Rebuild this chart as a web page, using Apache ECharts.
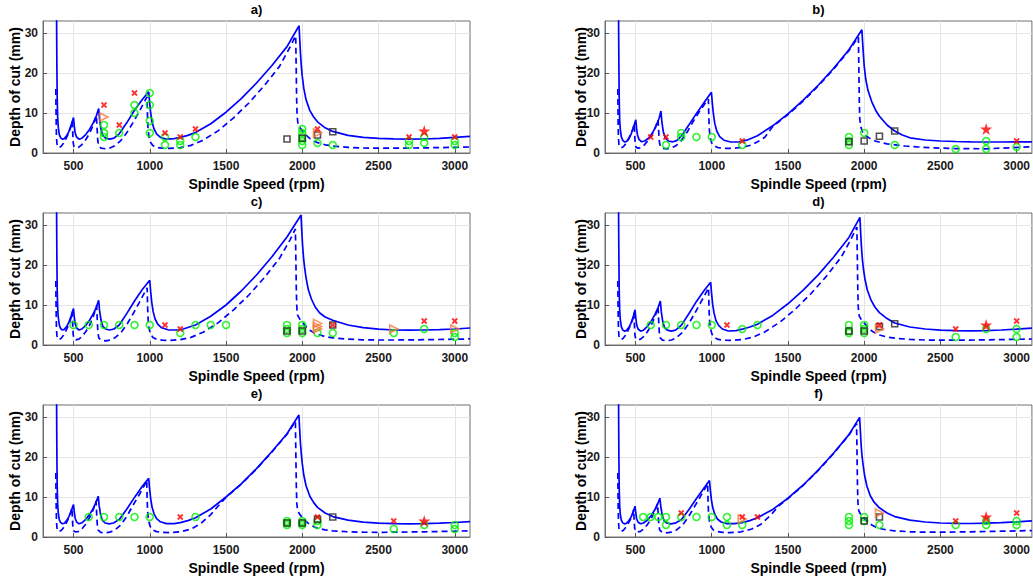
<!DOCTYPE html>
<html>
<head>
<meta charset="utf-8">
<title>Stability lobes</title>
<script src="https://cdn.jsdelivr.net/npm/echarts@6/dist/echarts.min.js"></script>
<style>
  html, body { margin: 0; padding: 0; background: #fff; }
  #chart { width: 1033px; height: 581px; }
</style>
</head>
<body>
<div id="chart"></div>
<script>
// Tick positions
const xTicks = [500, 1000, 1500, 2000, 2500, 3000];
const yTicks = [0, 10, 20, 30];
const panelTitles = ['a)', 'b)', 'c)', 'd)', 'e)', 'f)'];

// Stability lobes [spindle speed (rpm), depth of cut (mm)] — solid and dashed limits per panel
const lobeA_solid = [[389,34],[391,22],[393,14],[396,9],[400,6.5],[407,4.6],[416,3.8],[427,3.45],[440,3.6],[455,4.3],[470,5.4],[485,7.0],[500,8.85],[505,6.8],[511,5.0],[520,4.0],[536,3.45],[555,3.7],[580,4.6],[605,5.9],[630,7.6],[650,9.3],[665,11.1],[671,8.4],[680,6.0],[692,4.4],[710,3.7],[737,3.45],[765,3.7],[800,4.8],[850,7.6],[900,10.7],[950,13.3],[993,15.3],[999,12.6],[1006,10],[1015,7.8],[1028,6.0],[1045,4.8],[1070,3.9],[1109,3.45],[1160,3.6],[1200,3.9],[1250,4.4],[1300,5.1],[1400,7.3],[1500,10.2],[1600,13.6],[1700,17.5],[1800,21.8],[1900,26.6],[1979,31.8],[1984,28],[1989,24.5],[1994,21.7],[2000,19.2],[2010,16.2],[2025,13.3],[2050,10.6],[2075,9.0],[2100,7.8],[2150,6.3],[2200,5.4],[2300,4.4],[2400,3.9],[2500,3.65],[2600,3.52],[2700,3.45],[2800,3.5],[2900,3.65],[3000,3.9],[3100,4.15]];
const lobeA_dash = [[384,16],[386,9],[388,4.5],[391,2.4],[396,1.6],[405,1.35],[418,1.6],[432,2.3],[450,3.5],[468,5.0],[483,6.6],[492,8.0],[495,5],[498,2.6],[503,1.6],[515,1.3],[535,1.45],[555,2.1],[580,3.3],[605,4.9],[630,7.0],[650,9.4],[655,6],[659,3.2],[665,1.8],[680,1.2],[710,1.05],[740,1.25],[770,1.8],[810,3.1],[850,5.1],[890,7.6],[930,10.3],[970,13.2],[982,14.0],[985,9.5],[988,6.5],[994,4.2],[1005,2.7],[1020,1.9],[1045,1.4],[1080,1.2],[1130,1.15],[1200,1.35],[1270,1.9],[1350,3.2],[1450,5.6],[1550,8.8],[1650,12.5],[1750,16.8],[1850,21.6],[1920,26.5],[1957,29.3],[1960,22],[1963,14],[1966,9.5],[1972,7.2],[1985,6.3],[2000,5.6],[2025,4.5],[2050,3.6],[2075,3.0],[2100,2.6],[2150,2.05],[2200,1.75],[2300,1.4],[2400,1.25],[2500,1.2],[2600,1.2],[2800,1.28],[3000,1.42],[3100,1.5]];

const lobeB_solid = [[389,34],[391,22],[393,14],[396,8.5],[400,6],[407,4.1],[416,3.2],[428,2.75],[442,2.9],[457,3.6],[472,4.8],[487,6.4],[502,8.3],[507,6.2],[513,4.5],[523,3.4],[540,2.8],[560,3.0],[585,3.7],[610,4.9],[635,6.8],[655,8.7],[667,10.5],[673,7.8],[682,5.4],[695,3.8],[715,3.0],[745,2.8],[770,3.1],[800,4.2],[850,7.0],[900,9.9],[950,12.6],[998,15.2],[1004,12.4],[1011,9.8],[1020,7.4],[1033,5.5],[1052,4.1],[1080,3.2],[1125,2.75],[1180,2.8],[1230,3.2],[1300,4.3],[1400,6.8],[1500,9.8],[1600,13.2],[1700,17.0],[1800,21.2],[1900,25.8],[1985,30.8],[1990,27.5],[1995,24.5],[2000,21.8],[2010,18.5],[2025,15.6],[2050,12.8],[2075,10.7],[2100,9.2],[2150,7.0],[2200,5.5],[2250,4.5],[2300,3.8],[2400,3.25],[2500,3.0],[2600,2.88],[2700,2.8],[2900,2.75],[3100,2.8]];
const lobeB_dash = [[384,16],[386,8],[388,4],[391,2.2],[396,1.5],[405,1.3],[418,1.5],[432,2.1],[450,3.2],[468,4.6],[483,6.0],[492,7.3],[495,4.5],[498,2.4],[503,1.5],[515,1.2],[535,1.3],[555,1.9],[580,3.0],[605,4.4],[630,6.3],[648,8.3],[652,5.5],[656,3.0],[662,1.7],[678,1.15],[705,1.05],[735,1.25],[765,1.8],[800,3.1],[840,5.3],[880,8.0],[920,10.4],[960,12.6],[978,13.5],[981,9],[984,6],[990,3.8],[1000,2.5],[1015,1.8],[1040,1.35],[1080,1.15],[1130,1.15],[1200,1.4],[1260,2.0],[1310,3.0],[1350,4.0],[1400,6.6],[1500,9.6],[1600,13.0],[1700,16.8],[1800,21.0],[1900,25.6],[1962,29.0],[1965,21],[1968,13],[1971,8.5],[1978,6.5],[1990,5.2],[2007,4.4],[2040,3.6],[2072,3.0],[2110,2.6],[2150,2.3],[2190,2.1],[2270,1.75],[2355,1.5],[2450,1.3],[2600,1.1],[2800,1.05],[2950,1.3],[3100,1.55]];

const lobeC_solid = [[389,34],[391,22],[393,14],[396,9.5],[400,7],[407,5],[416,4.1],[427,3.75],[440,3.9],[455,4.6],[470,5.7],[485,7.3],[500,9.1],[505,7.0],[511,5.3],[520,4.3],[536,3.75],[555,4.0],[580,4.9],[605,6.2],[630,7.8],[650,9.5],[665,11.2],[671,8.6],[680,6.3],[692,4.7],[710,4.0],[737,3.75],[765,4.0],[800,5.0],[850,7.9],[900,11.0],[950,13.8],[1000,16.2],[1006,13.4],[1013,10.7],[1022,8.4],[1035,6.5],[1052,5.2],[1078,4.3],[1120,3.8],[1175,3.75],[1220,4.0],[1300,5.0],[1400,7.2],[1500,10.0],[1600,13.5],[1700,17.5],[1800,22.0],[1900,27.0],[1992,32.5],[1997,28.5],[2002,25],[2008,22],[2015,19.5],[2025,16.8],[2040,13.8],[2060,11.5],[2085,9.5],[2115,8.0],[2150,7.0],[2200,6.2],[2300,5.0],[2400,4.35],[2500,3.95],[2600,3.75],[2700,3.7],[2800,3.75],[2900,3.85],[3000,4.0],[3100,4.25]];
const lobeC_dash = [[384,16],[386,9],[388,4.5],[391,2.4],[396,1.6],[405,1.35],[418,1.6],[432,2.3],[450,3.5],[468,5.0],[483,6.7],[492,8.3],[495,5],[498,2.6],[503,1.6],[515,1.3],[535,1.45],[555,2.1],[580,3.3],[605,4.9],[630,7.2],[652,9.8],[656,6],[660,3.2],[666,1.8],[681,1.2],[711,1.05],[741,1.25],[771,1.8],[811,3.1],[851,5.2],[891,7.8],[931,10.6],[970,13.4],[983,14.3],[986,9.5],[989,6.5],[995,4.2],[1006,2.7],[1021,1.9],[1046,1.4],[1081,1.2],[1131,1.15],[1200,1.35],[1270,1.9],[1350,3.2],[1450,5.6],[1550,8.8],[1650,12.5],[1750,16.8],[1850,21.6],[1920,26.3],[1955,29.0],[1958,22],[1961,14],[1964,9.5],[1970,7.4],[1985,6.4],[2000,5.7],[2025,4.6],[2050,3.7],[2075,3.1],[2100,2.7],[2150,2.1],[2200,1.8],[2300,1.45],[2400,1.3],[2500,1.25],[2600,1.25],[2800,1.32],[3000,1.45],[3100,1.52]];

const lobeD_solid = [[389,34],[391,22],[393,14],[396,9],[400,6.5],[407,4.6],[416,3.8],[427,3.45],[440,3.6],[455,4.3],[470,5.4],[485,7.0],[497,8.8],[502,6.8],[508,5.0],[517,4.0],[533,3.45],[552,3.7],[577,4.6],[602,5.9],[627,7.6],[648,9.3],[663,11.0],[669,8.4],[678,6.0],[690,4.4],[708,3.7],[735,3.45],[763,3.7],[800,4.9],[850,7.8],[900,10.9],[950,13.6],[993,15.7],[999,12.9],[1006,10.2],[1015,8.0],[1028,6.1],[1045,4.9],[1070,4.0],[1109,3.5],[1160,3.6],[1200,3.95],[1250,4.5],[1300,5.2],[1400,7.4],[1500,10.3],[1600,13.7],[1700,17.6],[1800,22.0],[1900,26.9],[1972,31.9],[1977,28],[1982,24.5],[1988,21.5],[1995,19.0],[2005,16.5],[2020,13.8],[2045,11.2],[2070,9.5],[2100,8.1],[2150,6.6],[2200,5.5],[2300,4.5],[2400,4.0],[2500,3.7],[2600,3.58],[2700,3.55],[2800,3.6],[2900,3.75],[3000,3.95],[3100,4.2]];
const lobeD_dash = [[384,16],[386,9],[388,4.5],[391,2.4],[396,1.6],[405,1.35],[418,1.6],[432,2.3],[450,3.5],[468,5.0],[483,6.6],[490,8.1],[493,5],[496,2.6],[501,1.6],[513,1.3],[533,1.45],[553,2.1],[578,3.3],[603,4.9],[628,7.1],[648,9.6],[652,6],[656,3.2],[662,1.8],[677,1.2],[707,1.05],[737,1.25],[767,1.8],[807,3.1],[847,5.2],[887,7.8],[927,10.6],[967,13.4],[979,14.3],[982,9.5],[985,6.5],[991,4.2],[1002,2.7],[1017,1.9],[1042,1.4],[1077,1.2],[1127,1.15],[1200,1.35],[1270,1.95],[1350,3.3],[1450,5.8],[1550,9.0],[1650,12.8],[1750,17.1],[1850,22.0],[1915,26.6],[1952,29.5],[1955,22],[1958,14],[1961,9.5],[1967,7.3],[1982,6.3],[2000,5.5],[2025,4.4],[2050,3.5],[2075,2.9],[2100,2.5],[2150,2.0],[2200,1.7],[2300,1.4],[2400,1.25],[2500,1.2],[2600,1.2],[2800,1.28],[3000,1.42],[3100,1.5]];

const lobeE_solid = [[389,34],[391,21],[393,13],[396,8.5],[400,6.0],[407,4.3],[416,3.6],[427,3.3],[440,3.45],[455,4.1],[470,5.1],[485,6.5],[500,8.1],[505,6.3],[511,4.7],[520,3.8],[536,3.3],[555,3.55],[580,4.4],[605,5.6],[630,7.2],[648,8.7],[662,10.2],[668,7.9],[677,5.7],[689,4.2],[707,3.5],[735,3.3],[763,3.5],[800,4.4],[850,7.0],[900,9.9],[950,12.6],[993,14.7],[999,12.1],[1006,9.6],[1015,7.5],[1028,5.8],[1045,4.6],[1070,3.8],[1109,3.35],[1160,3.35],[1200,3.6],[1250,4.1],[1300,4.8],[1400,7.0],[1500,10.0],[1600,13.3],[1700,17.1],[1800,21.3],[1900,25.8],[1978,30.5],[1983,27],[1988,23.5],[1994,20.7],[2000,18.4],[2010,15.5],[2025,12.8],[2050,10.2],[2075,8.6],[2100,7.4],[2150,6.0],[2200,5.1],[2300,4.2],[2400,3.7],[2500,3.45],[2600,3.33],[2700,3.3],[2800,3.33],[2900,3.45],[3000,3.62],[3100,3.85]];
const lobeE_dash = [[384,16],[386,9],[388,4.5],[391,2.4],[396,1.6],[405,1.35],[418,1.6],[432,2.2],[450,3.3],[468,4.7],[483,6.3],[490,7.3],[493,4.5],[496,2.4],[502,1.5],[515,1.25],[535,1.4],[555,2.0],[580,3.2],[605,4.8],[630,6.9],[648,9.0],[652,5.8],[656,3.1],[662,1.7],[678,1.15],[708,1.05],[738,1.2],[770,1.7],[810,3.0],[850,5.2],[890,7.9],[930,10.5],[965,12.9],[980,14.2],[983,9.5],[986,6.4],[992,4.1],[1003,2.6],[1018,1.8],[1045,1.35],[1080,1.15],[1130,1.1],[1200,1.3],[1270,2.0],[1330,3.2],[1400,5.6],[1450,7.8],[1500,9.9],[1600,13.2],[1700,17.0],[1800,21.2],[1900,25.7],[1955,28.9],[1958,21],[1961,13],[1964,8.5],[1970,6.5],[1985,5.6],[2000,4.9],[2025,3.9],[2050,3.1],[2075,2.6],[2100,2.2],[2150,1.8],[2200,1.55],[2300,1.3],[2400,1.2],[2500,1.17],[2600,1.2],[2800,1.3],[3000,1.45],[3100,1.55]];

const lobeF_solid = [[389,34],[391,20],[393,12.5],[396,8],[400,5.8],[407,4.2],[416,3.55],[427,3.3],[440,3.4],[455,4.0],[470,4.9],[485,6.2],[497,7.7],[502,6.0],[508,4.5],[517,3.7],[533,3.3],[552,3.5],[577,4.2],[602,5.3],[627,6.8],[646,8.3],[660,9.7],[666,7.6],[675,5.5],[687,4.1],[705,3.5],[733,3.3],[760,3.45],[800,4.3],[850,6.8],[900,9.6],[945,12.0],[985,14.1],[991,11.7],[998,9.3],[1007,7.3],[1020,5.7],[1037,4.5],[1062,3.75],[1100,3.35],[1150,3.35],[1200,3.6],[1250,4.1],[1300,4.8],[1400,6.9],[1500,9.7],[1600,13.0],[1700,16.8],[1800,21.0],[1900,25.6],[1970,29.9],[1975,26.5],[1980,23],[1986,20.2],[1993,18.0],[2003,15.3],[2018,12.7],[2040,10.3],[2065,8.7],[2100,7.3],[2150,6.0],[2200,5.1],[2300,4.2],[2400,3.75],[2500,3.5],[2600,3.4],[2700,3.38],[2800,3.45],[2900,3.6],[3000,3.8],[3100,4.05]];
const lobeF_dash = [[384,16],[386,9],[388,4.5],[391,2.4],[396,1.6],[405,1.35],[418,1.6],[432,2.2],[450,3.2],[468,4.5],[480,5.7],[488,6.9],[491,4.3],[494,2.3],[500,1.5],[513,1.25],[533,1.4],[553,2.0],[578,3.1],[603,4.6],[628,6.6],[645,8.4],[649,5.5],[653,3.0],[659,1.7],[675,1.15],[705,1.05],[735,1.2],[767,1.7],[807,2.9],[847,5.0],[887,7.6],[927,10.2],[960,12.4],[973,13.4],[976,9],[979,6.1],[985,3.9],[996,2.5],[1011,1.75],[1038,1.35],[1073,1.15],[1123,1.1],[1193,1.3],[1263,2.0],[1323,3.2],[1390,5.6],[1440,7.8],[1480,9.0],[1500,9.6],[1600,12.9],[1700,16.7],[1800,20.9],[1900,25.5],[1950,28.4],[1953,21],[1956,13],[1959,8.5],[1965,6.5],[1980,5.5],[2000,4.6],[2025,3.7],[2050,3.0],[2075,2.5],[2100,2.15],[2150,1.75],[2200,1.55],[2300,1.3],[2400,1.2],[2500,1.2],[2700,1.3],[2900,1.45],[3100,1.6]];

// Cutting tests [rpm, depth (mm)]: stable (circle), chatter (x), marginal (triangle), square marks, star marks
const stableA = [[700,7],[700,5],[700,4],[800,5],[900,12],[900,10],[1000,15],[1000,12],[1000,8],[1000,5],[1100,4],[1100,2],[1200,3],[1200,2],[1300,4],[2000,6],[2000,5],[2000,4],[2000,3],[2000,2],[2100,2.5],[2200,2],[2700,3],[2700,2],[2800,4],[2800,2.5],[3000,3],[3000,2]];
const chatterA = [[700,12],[800,7],[900,15],[1100,5],[1200,4],[1300,6],[2100,6],[2700,4],[3000,4]];
const marginalA = [[700,9],[2100,5]];
const squareA = [[1900,3.5],[2000,3.7],[2100,4.5],[2200,5.3]];
const starA = [[2800,5.5]];

const stableB = [[700,2],[800,5],[800,4],[900,4],[1000,4],[1200,2],[1900,4],[1900,3],[1900,2],[2000,5],[2200,2],[2600,1],[2800,3],[2800,1],[3000,1.5]];
const chatterB = [[600,4],[700,4],[1200,3],[3000,3]];
const marginalB = [];
const squareB = [[1900,2.8],[2000,3],[2100,4.2],[2200,5.5]];
const starB = [[2800,6]];

const stableC = [[500,5],[600,5],[700,5],[800,5],[900,5],[1000,5],[1200,3],[1300,5],[1400,5],[1500,5],[1900,5],[1900,4],[1900,3],[2000,5],[2000,4],[2000,3],[2100,3],[2200,3],[2600,3],[2800,4],[3000,3],[3000,2]];
const chatterC = [[1100,5],[1200,4],[2200,5],[2800,6],[3000,6]];
const marginalC = [[2100,5.4],[2100,4.6],[2100,4],[2600,4],[3000,4]];
const squareC = [[1900,3.5],[2000,3.5],[2200,5]];
const starC = [];

const stableD = [[600,5],[700,5],[800,5],[900,5],[1000,5],[1200,4],[1300,5],[1900,5],[1900,3.5],[1900,3],[2000,5],[2000,4],[2000,3],[2600,2],[2800,4],[3000,4],[3000,2]];
const chatterD = [[1100,5],[2100,5],[2600,4],[3000,6]];
const marginalD = [[2100,4]];
const squareD = [[1900,3.5],[2000,3.5],[2100,4.6],[2200,5.3]];
const starD = [[2800,5]];

const stableE = [[600,5],[700,5],[800,5],[900,5],[1000,5],[1300,5],[1900,4],[1900,3.5],[1900,3],[2000,4],[2000,3.5],[2000,3],[2100,4],[2100,3],[2600,2],[2800,3],[3000,3],[3000,2]];
const chatterE = [[1200,5],[2100,5],[2600,4]];
const marginalE = [];
const squareE = [[1900,3.5],[2000,3.5],[2100,4.4],[2200,5]];
const starE = [[2800,4]];

const stableF = [[550,5],[600,5],[650,5],[700,5],[700,3],[800,5],[900,5],[1000,5],[1100,5],[1100,3],[1200,3],[1900,5],[1900,4],[1900,3],[2000,5],[2000,4],[2100,3],[2600,3],[2800,4],[2800,3],[3000,4],[3000,3]];
const chatterF = [[800,6],[1200,5],[1300,5],[2600,4],[3000,6]];
const marginalF = [[1200,4.5],[2100,6]];
const squareF = [[2000,4],[2100,5]];
const starF = [[2800,5]];

const panels = [
  { solid: lobeA_solid, dash: lobeA_dash, stable: stableA, chatter: chatterA, marginal: marginalA, square: squareA, star: starA },
  { solid: lobeB_solid, dash: lobeB_dash, stable: stableB, chatter: chatterB, marginal: marginalB, square: squareB, star: starB },
  { solid: lobeC_solid, dash: lobeC_dash, stable: stableC, chatter: chatterC, marginal: marginalC, square: squareC, star: starC },
  { solid: lobeD_solid, dash: lobeD_dash, stable: stableD, chatter: chatterD, marginal: marginalD, square: squareD, star: starD },
  { solid: lobeE_solid, dash: lobeE_dash, stable: stableE, chatter: chatterE, marginal: marginalE, square: squareE, star: starE },
  { solid: lobeF_solid, dash: lobeF_dash, stable: stableF, chatter: chatterF, marginal: marginalF, square: squareF, star: starF }
];

// Layout of the 3x2 panel grid (px)
const colLeft = [43, 605];
const rowTop = [21, 213, 405];
const plotW = 427, plotH = 132;

const FONT = "'Liberation Sans', Arial, Helvetica, sans-serif";
const LINE_BLUE = '#0000ff';
const CROSS = 'path://M0,0L10,10M10,0L0,10';
const TRI_RIGHT = 'path://M0,0L10,5L0,10Z';
const STAR = 'path://M50,0L61.2,34.5L97.6,34.5L68.2,55.9L79.4,90.5L50,69.1L20.6,90.5L31.8,55.9L2.4,34.5L38.8,34.5Z';
const plainNumber = v => String(v);

const grids = [], xAxes = [], yAxes = [], series = [], texts = [];

panels.forEach((p, i) => {
  const col = i % 2, row = Math.floor(i / 2);
  const left = colLeft[col], top = rowTop[row];
  grids.push({
    left: left, top: top, width: plotW, height: plotH,
    show: true, borderColor: '#6e6e6e', borderWidth: 1, backgroundColor: '#fff'
  });
  xAxes.push({
    type: 'value', gridIndex: i, min: 300, max: 3100,
    axisLine: { show: true, onZero: false, lineStyle: { color: '#6e6e6e', width: 1 } },
    axisTick: { show: true, inside: true, length: 4, customValues: xTicks, lineStyle: { color: '#555' } },
    axisLabel: { customValues: xTicks, formatter: plainNumber, color: '#1a1a1a', fontWeight: 'bold', fontSize: 12, fontFamily: FONT, margin: 7 },
    splitLine: { show: true, lineStyle: { color: '#e4e4e4', width: 1 } }
  });
  yAxes.push({
    type: 'value', gridIndex: i, min: 0, max: 33,
    axisLine: { show: true, onZero: false, lineStyle: { color: '#6e6e6e', width: 1 } },
    axisTick: { show: true, inside: true, length: 4, customValues: yTicks, lineStyle: { color: '#555' } },
    axisLabel: { customValues: yTicks, formatter: plainNumber, color: '#1a1a1a', fontWeight: 'bold', fontSize: 12, fontFamily: FONT, margin: 5 },
    splitLine: { show: true, lineStyle: { color: '#e4e4e4', width: 1 } }
  });

  const base = { xAxisIndex: i, yAxisIndex: i, silent: true, animation: false };
  series.push(Object.assign({
    type: 'line', data: p.solid, showSymbol: false, symbol: 'none', clip: true, z: 2,
    lineStyle: { color: LINE_BLUE, width: 1.7 }
  }, base));
  series.push(Object.assign({
    type: 'line', data: p.dash, showSymbol: false, symbol: 'none', clip: true, z: 2,
    lineStyle: { color: LINE_BLUE, width: 1.7, type: [6, 4] }
  }, base));
  series.push(Object.assign({
    type: 'scatter', data: p.stable, symbol: 'circle', symbolSize: 7, z: 3,
    itemStyle: { color: 'rgba(0,0,0,0)', borderColor: '#00ee00', borderWidth: 1.6 }
  }, base));
  series.push(Object.assign({
    type: 'scatter', data: p.square, symbol: 'rect', symbolSize: 6, z: 4,
    itemStyle: { color: 'rgba(0,0,0,0)', borderColor: '#262626', borderWidth: 1.6 }
  }, base));
  series.push(Object.assign({
    type: 'scatter', data: p.marginal, symbol: TRI_RIGHT, symbolSize: 8, z: 4,
    itemStyle: { color: 'rgba(0,0,0,0)', borderColor: '#f5793a', borderWidth: 1.6 }
  }, base));
  series.push(Object.assign({
    type: 'scatter', data: p.chatter, symbol: CROSS, symbolSize: 5, z: 5,
    itemStyle: { color: 'rgba(0,0,0,0)', borderColor: '#ff0000', borderWidth: 1.8 }
  }, base));
  series.push(Object.assign({
    type: 'scatter', data: p.star, symbol: STAR, symbolSize: 12, z: 6,
    itemStyle: { color: '#ff0000', borderWidth: 0 }
  }, base));

  // Panel title and axis names
  texts.push({
    type: 'text', x: left + plotW / 2, y: top - 12, silent: true,
    style: { text: panelTitles[i], fill: '#000', fontSize: 13, fontWeight: 'bold', fontFamily: FONT, align: 'center', verticalAlign: 'middle' }
  });
  texts.push({
    type: 'text', x: left + plotW / 2, y: top + plotH + 31, silent: true,
    style: { text: 'Spindle Speed (rpm)', fill: '#000', fontSize: 14, fontWeight: 'bold', fontFamily: FONT, align: 'center', verticalAlign: 'middle' }
  });
  texts.push({
    type: 'text', x: left - (col === 0 ? 28 : 24), y: top + plotH / 2, rotation: Math.PI / 2, silent: true,
    style: { text: 'Depth of cut (mm)', fill: '#000', fontSize: 14, fontWeight: 'bold', fontFamily: FONT, align: 'center', verticalAlign: 'middle' }
  });
});

const chart = echarts.init(document.getElementById('chart'), null, { renderer: 'svg' });
chart.setOption({
  backgroundColor: '#ffffff',
  animation: false,
  grid: grids,
  xAxis: xAxes,
  yAxis: yAxes,
  series: series,
  graphic: { elements: texts }
});
</script>
</body>
</html>
